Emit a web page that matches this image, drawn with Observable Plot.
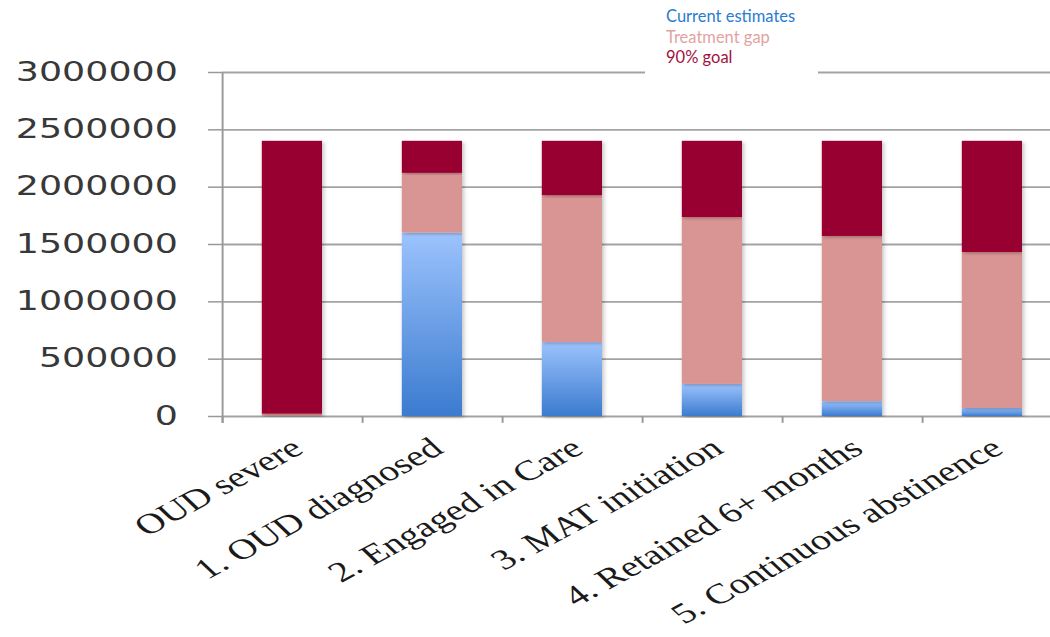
<!DOCTYPE html>
<html><head><meta charset="utf-8">
<script src="https://cdn.jsdelivr.net/npm/d3@7"></script>
<script src="https://cdn.jsdelivr.net/npm/@observablehq/plot@0.6"></script>
<style>
html,body{margin:0;padding:0;background:#fff;overflow:hidden;}
#wrap{position:relative;width:1050px;height:637px;}
#legend{position:absolute;left:645px;top:0;width:173px;height:74px;background:#fff;box-sizing:border-box;padding:6px 0 0 21px;font-family:Lato,"Open Sans",sans-serif;font-size:16.5px;line-height:20.5px;}
#legend div{white-space:nowrap;}
</style></head><body>
<div id="wrap"><div id="chart"></div><div id="legend"></div></div>
<script>
const stages = ["OUD severe", "1. OUD diagnosed", "2. Engaged in Care", "3. MAT initiation", "4. Retained 6+ months", "5. Continuous abstinence"];
const seriesNames = ["Current estimates", "Treatment gap", "90% goal"];
const currentEstimates = [0, 1600000, 645000, 280000, 130000, 70000];
const treatmentGap = [20000, 520000, 1280000, 1455000, 1440000, 1360000];
const goal90 = [2380000, 280000, 475000, 665000, 830000, 970000];
const yTicks = [0, 500000, 1000000, 1500000, 2000000, 2500000, 3000000];

const data = stages.flatMap((s, i) => [
  {stage: s, series: seriesNames[0], value: currentEstimates[i]},
  {stage: s, series: seriesNames[1], value: treatmentGap[i]},
  {stage: s, series: seriesNames[2], value: goal90[i]}
]);

// The reference is horizontally stretched by 1.4: draw at 750 wide, display at 1050.
const SX = 1.4;
const W = 1050 / SX, H = 637;

const plot = Plot.plot({
  width: W, height: H,
  marginLeft: 222 / SX, marginRight: -12 / SX, marginTop: 72, marginBottom: 221,
  x: {domain: stages, paddingInner: 0.57, paddingOuter: 0.285, label: null, axis: null},
  y: {domain: [0, 3000000], label: null, axis: null},
  color: {domain: seriesNames, range: ["url(#blueGrad)", "#d99594", "#990033"]},
  marks: [
    Plot.ruleY(yTicks, {stroke: "#a3a3a3", strokeWidth: 1.8}),
    Plot.barY(data, {x: "stage", y: "value", fill: "series", order: seriesNames}),
    Plot.ruleX(stages, {x: d => d, y1: -60000, y2: 0, dx: -50, stroke: "#999", strokeWidth: 1.4}),
    Plot.ruleX([stages[0]], {x: d => d, y1: -60000, y2: 3000000, dx: -50, stroke: "#999", strokeWidth: 1.4}),
    Plot.axisY({ticks: yTicks, tickSize: 10, tickPadding: 22, tickFormat: d => String(d),
      fontSize: 26, fontFamily: "DejaVu Sans", stroke: "#999", strokeWidth: 1.5, fill: "#383838"}),
    Plot.axisX({tickSize: 0, tickRotate: -37, tickPadding: 28, dx: 3.5, fontSize: 28.5,
      fontFamily: "Liberation Serif", fill: "#1a1a1a"})
  ]
});

const svg = d3.select(plot);
const defs = svg.insert("defs", ":first-child");
const lg = defs.append("linearGradient").attr("id", "blueGrad")
  .attr("x1", 0).attr("y1", 0).attr("x2", 0).attr("y2", 1);
lg.append("stop").attr("offset", "0%").attr("stop-color", "#9cc3fd");
lg.append("stop").attr("offset", "100%").attr("stop-color", "#3b7bcf");
const f = defs.append("filter").attr("id", "shadow").attr("x", "-20%").attr("y", "-5%").attr("width", "140%").attr("height", "110%");
f.append("feDropShadow").attr("dx", 1.2).attr("dy", 1.5).attr("stdDeviation", 1.6)
  .attr("flood-color", "#000").attr("flood-opacity", 0.25);
svg.selectAll('g[aria-label="bar"] rect').attr("filter", "url(#shadow)");

plot.setAttribute("width", 1050);
plot.setAttribute("height", 637);
plot.setAttribute("preserveAspectRatio", "none");
plot.style.maxWidth = "none";
plot.style.width = "1050px";
plot.style.height = "637px";
document.getElementById("chart").appendChild(plot);

const legend = d3.select("#legend");
const legendColors = {"Current estimates": "#2a7bd2", "Treatment gap": "#e3a2a2", "90% goal": "#a2123e"};
seriesNames.forEach(n => legend.append("div").style("color", legendColors[n]).text(n));
</script>
</body></html>
